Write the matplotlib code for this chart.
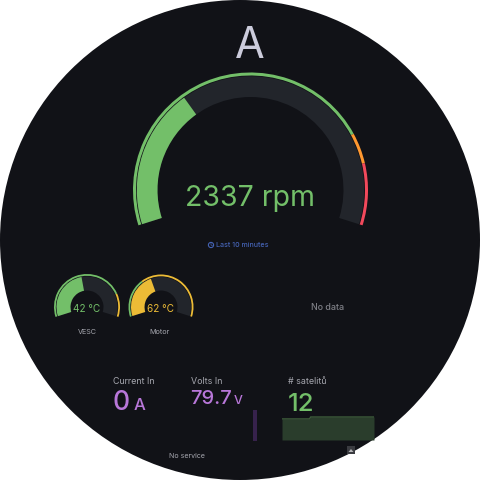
import matplotlib
matplotlib.use("Agg")
import matplotlib.pyplot as plt
from matplotlib.patches import Wedge, Circle, Rectangle, Polygon

plt.rcParams['font.family'] = ['Inter', 'DejaVu Sans']

BG = '#111217'; TRACK = '#22252b'; TXT = '#ccccdc'; DIM = '#a5a6ae'
GREEN = '#73bf69'; ORANGE = '#ff9830'; RED = '#f2495c'; YELLOW = '#ecbb36'; PURPLE = '#b877d9'

# Gauges: value, range, thresholds
main_value, main_max = 2337, 7000
main_steps = [(0, GREEN), (5500, ORANGE), (6000, RED)]
vesc_value, vesc_max = 42, 93
vesc_steps = [(0, GREEN), (75, YELLOW)]
motor_value, motor_max = 62, 152
motor_steps = [(0, GREEN), (50, YELLOW)]

# Stats
sat_time = [0, 3.0, 3.1, 10]
sat_values = [11, 11, 12, 12]
volts_bar = [79.7]

START, END = 197.5, -17.5

def ang(v, vmax):
    return START - (START - END) * v / vmax

fig = plt.figure(figsize=(4.8, 4.8), dpi=100, facecolor='white')
ax = fig.add_axes([0, 0, 1, 1])
ax.set_xlim(0, 480); ax.set_ylim(480, 0); ax.axis('off')
ax.add_patch(Circle((240, 240), 240, fc=BG, ec='none'))

def gauge(cx, cy, value, vmax, steps, color, r_out, ring_w, r_v, r_in):
    # y-axis is inverted, so flip angles for Wedge
    for i, (s, c) in enumerate(steps):
        e = steps[i + 1][0] if i + 1 < len(steps) else vmax
        ax.add_patch(Wedge((cx, cy), r_out, -ang(s, vmax), -ang(e, vmax), width=ring_w, fc=c, ec='none'))
    ax.add_patch(Wedge((cx, cy), r_v, -START, -END, width=r_v - r_in, fc=TRACK, ec='none'))
    ax.add_patch(Wedge((cx, cy), r_v, -START, -ang(value, vmax), width=r_v - r_in, fc=color, ec='none'))

gauge(250.5, 190, main_value, main_max, main_steps, GREEN, 117.5, 3, 113.7, 93)
gauge(87, 307, vesc_value, vesc_max, vesc_steps, GREEN, 33, 1.8, 30.5, 16.5)
gauge(161, 307, motor_value, motor_max, motor_steps, YELLOW, 32.5, 1.8, 30, 16.5)

def t(x, y, s, size, color, ha='center', **kw):
    ax.text(x, y, s, fontsize=size, color=color, ha=ha, va='center', **kw)

t(250, 46, 'A', 31, TXT)
t(250, 198, f'{main_value} rpm', 20.5, GREEN)
ax.add_patch(Circle((211, 245), 2.6, fc='none', ec='#4563b5', lw=0.8))
ax.plot([211, 211, 212.3], [243.4, 245, 245.6], color='#4563b5', lw=0.5)
t(216.5, 245, 'Last 10 minutes', 5.1, '#4563b5', ha='left', fontweight='medium')
t(86.5, 308.5, f'{vesc_value} °C', 7.2, GREEN)
t(160.5, 308.5, f'{motor_value} °C', 7.2, YELLOW)
t(87, 332, 'VESC', 5.2, DIM)
t(160, 332, 'Motor', 5.2, DIM)
t(327.5, 307.5, 'No data', 6.4, '#7f8087', fontweight='medium')

t(113, 381, 'Current In', 6.4, DIM, ha='left')
t(191, 381, 'Volts In', 6.4, DIM, ha='left')
t(288, 381, '# satelitů', 6.4, DIM, ha='left')
t(113, 403, '0', 19, PURPLE, ha='left', fontweight='medium')
t(133.5, 405, 'A', 12, PURPLE, ha='left', fontweight='medium')
t(190, 399.5, f'{volts_bar[0]}', 14.5, PURPLE, ha='left', fontweight='medium')
t(233.5, 400.5, 'V', 9, PURPLE, ha='left', fontweight='medium')
t(288, 404.5, str(sat_values[-1]), 18.5, GREEN, ha='left', fontweight='medium')
t(187, 456, 'No service', 5.1, DIM)

# sparkline of satellites
sp = fig.add_axes([282/480, 1 - 440/480, 92/480, 24/480])
sp.patch.set_alpha(0); sp.axis('off')
sp.set_xlim(0, 10); sp.set_ylim(0, 12.5)
sp.fill_between(sat_time, sat_values, color='#2a3d2c', lw=0)
sp.plot(sat_time, sat_values, color='#3f5f3c', lw=0.9, solid_capstyle='butt')

# volts bar
vb = fig.add_axes([253/480, 1 - 441/480, 4/480, 31/480])
vb.patch.set_alpha(0); vb.axis('off')
vb.set_xlim(-0.5, 0.5); vb.set_ylim(0, 79.7)
vb.bar([0], volts_bar, width=1, color='#37224c')

# small scroll button
ax.add_patch(Rectangle((347, 446), 8, 8, fc='#3a3b40', ec='none'))
ax.add_patch(Polygon([(348.5, 452), (353.5, 452), (351, 449)], fc='#b5b5b8', ec='none'))

fig.savefig('out.png', dpi=100, facecolor='white')
